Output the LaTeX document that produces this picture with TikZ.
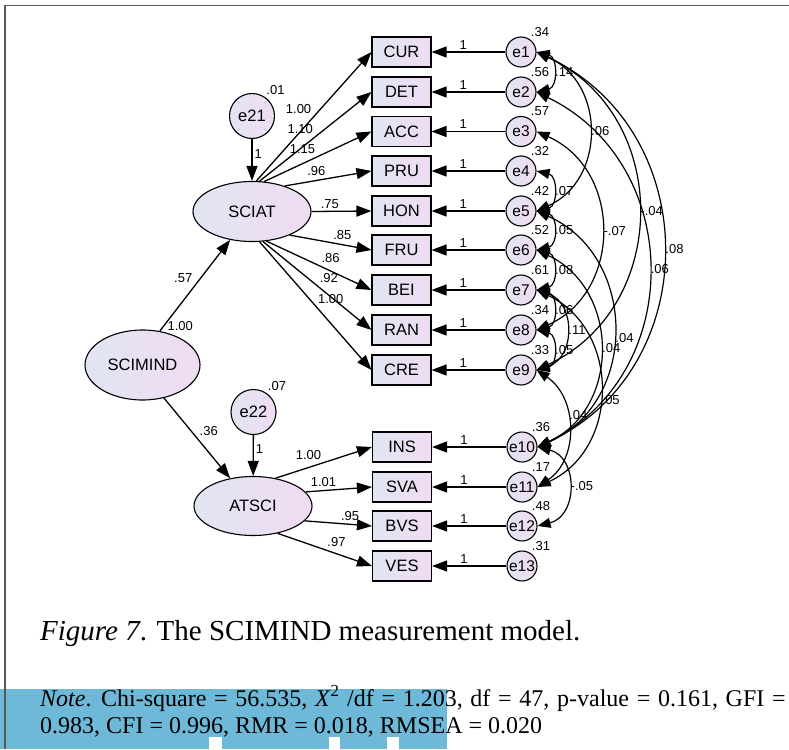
\documentclass[tikz,border=0pt]{standalone}
\usepackage{fontspec}
\setmainfont{Liberation Sans}
\newfontfamily\timesfont{Liberation Serif}
\usetikzlibrary{arrows.meta,shapes.geometric}
\definecolor{fillleft}{RGB}{225,229,242}
\definecolor{fillright}{RGB}{240,219,243}
\definecolor{bannerblue}{RGB}{110,184,216}
\definecolor{framecolor}{RGB}{90,90,90}

\begin{document}
\begin{tikzpicture}[x=1pt,y=1pt]
	\tikzstyle{latent} = [ellipse, draw, line width=1.1pt, left color=fillleft, right color=fillright, inner sep=0pt, label distance=2pt, font=\fontsize{16.5}{18}\selectfont]
	\tikzstyle{observed} = [rectangle, draw, line width=1.1pt, left color=fillleft, right color=fillright, minimum width=59pt, minimum height=30pt, inner sep=0pt, font=\fontsize{16.5}{18}\selectfont]
	\tikzstyle{errcirc} = [circle, draw, line width=1.1pt, left color=fillleft, right color=fillright, minimum size=30pt, inner sep=-3pt, label distance=3pt, font=\fontsize{15.5}{17}\selectfont]
	\tikzstyle{disturb} = [errcirc, minimum size=45pt, font=\fontsize{16.5}{18}\selectfont]
	\tikzstyle{estimate} = [font=\fontsize{13}{15}\selectfont, inner sep=2pt]
	\tikzstyle{regpath} = [-{Triangle[length=15pt,width=11pt]}, line width=1.3pt]
	\tikzstyle{covpath} = [{Triangle[length=13pt,width=10pt]}-{Triangle[length=13pt,width=10pt]}, line width=1.2pt]

	\useasboundingbox (0,0) rectangle (789,-749);
	\clip (0,0) rectangle (789,-749);

	% page frame and banner
	\fill[bannerblue] (0,-689) rectangle (447,-749);
	\fill[white] (209,-737) rectangle (222,-749);
	\fill[white] (329,-737) rectangle (340,-749);
	\fill[white] (387,-737) rectangle (399,-749);
	\draw[framecolor, line width=1.6pt] (789,-5.5) -- (4.8,-5.5) -- (4.8,-749);

	% latent variables
	\node[latent, minimum width=115pt, minimum height=70pt, label={[estimate]55:1.00}] (SCIMIND) at (142.5,-365) {SCIMIND};
	\node[latent, minimum width=118pt, minimum height=60pt] (SCIAT) at (252,-211.5) {SCIAT};
	\node[latent, minimum width=118pt, minimum height=59pt] (ATSCI) at (253,-506) {ATSCI};
	\node[disturb, label={[estimate]58:.01}] (e21) at (252,-116) {e21};
	\node[disturb, label={[estimate]58:.07}] (e22) at (253.5,-412) {e22};

	% indicators
	\node[observed] (CUR) at (401.5,-52) {CUR};
	\node[observed] (DET) at (401.5,-92) {DET};
	\node[observed] (ACC) at (401.5,-131.5) {ACC};
	\node[observed] (PRU) at (401.5,-171) {PRU};
	\node[observed] (HON) at (401.5,-211) {HON};
	\node[observed] (FRU) at (401.5,-250) {FRU};
	\node[observed] (BEI) at (401.5,-290) {BEI};
	\node[observed] (RAN) at (401.5,-330) {RAN};
	\node[observed] (CRE) at (401.5,-370) {CRE};
	\node[observed] (INS) at (402,-447) {INS};
	\node[observed] (SVA) at (402,-487) {SVA};
	\node[observed] (BVS) at (402,-526) {BVS};
	\node[observed] (VES) at (402,-566) {VES};

	% error terms
	\node[errcirc, label={[estimate]60:.34}] (e1) at (521,-52) {e1};
	\node[errcirc, label={[estimate]60:.56}] (e2) at (521,-92) {e2};
	\node[errcirc, label={[estimate]60:.57}] (e3) at (521,-131.5) {e3};
	\node[errcirc, label={[estimate]60:.32}] (e4) at (521,-171) {e4};
	\node[errcirc, label={[estimate]60:.42}] (e5) at (521,-211) {e5};
	\node[errcirc, label={[estimate]60:.52}] (e6) at (521,-250) {e6};
	\node[errcirc, label={[estimate]60:.61}] (e7) at (521,-290) {e7};
	\node[errcirc, label={[estimate]60:.34}] (e8) at (521,-330) {e8};
	\node[errcirc, label={[estimate]60:.33}] (e9) at (521,-370) {e9};
	\node[errcirc, label={[estimate]60:.36}] (e10) at (522,-447) {e10};
	\node[errcirc, label={[estimate]60:.17}] (e11) at (522,-487) {e11};
	\node[errcirc, label={[estimate]60:.48}] (e12) at (522,-526) {e12};
	\node[errcirc, label={[estimate]60:.31}] (e13) at (522,-566) {e13};

	% structural part
	\draw[regpath] (e21) -- (SCIAT) node[estimate, pos=0.35, right] {1};
	\draw[regpath] (e22) -- (ATSCI) node[estimate, pos=0.35, right] {1};
	\draw[regpath] (SCIMIND.63) -- (SCIAT) node[estimate, midway, above left] {.57};
	\draw[regpath] (SCIMIND.-57) -- (ATSCI) node[estimate, midway, above right] {.36};

	% loadings
	\draw[regpath] (SCIAT.82) -- (CUR.west) node[estimate, midway, above left] {1.00};
	\draw[regpath] (SCIAT.76) -- (DET.west) node[estimate, midway, above left] {1.10};
	\draw[regpath] (SCIAT.68) -- (ACC.west) node[estimate, midway, above left] {1.15};
	\draw[regpath] (SCIAT.38) -- (PRU.west) node[estimate, midway, above left] {.96};
	\draw[regpath] (SCIAT.east) -- (HON.west) node[estimate, midway, above left] {.75};
	\draw[regpath] (SCIAT.-32) -- (FRU.west) node[estimate, midway, above right] {.85};
	\draw[regpath] (SCIAT.-64) -- (BEI.west) node[estimate, midway, above right] {.86};
	\draw[regpath] (SCIAT.-70) -- (RAN.west) node[estimate, midway, above right] {.92};
	\draw[regpath] (SCIAT.-76) -- (CRE.west) node[estimate, midway, above right] {1.00};
	\draw[regpath] (ATSCI.51) -- (INS.west) node[estimate, midway, above left] {1.00};
	\draw[regpath] (ATSCI.15) -- (SVA.west) node[estimate, midway, above left] {1.01};
	\draw[regpath] (ATSCI.-16) -- (BVS.west) node[estimate, midway, above right] {.95};
	\draw[regpath] (ATSCI.-48) -- (VES.west) node[estimate, midway, above right] {.97};

	% residual paths
	\draw[regpath] (e1) -- (CUR) node[estimate, pos=0.57, above] {1};
	\draw[regpath] (e2) -- (DET) node[estimate, pos=0.57, above] {1};
	\draw[regpath] (e3) -- (ACC) node[estimate, pos=0.57, above] {1};
	\draw[regpath] (e4) -- (PRU) node[estimate, pos=0.57, above] {1};
	\draw[regpath] (e5) -- (HON) node[estimate, pos=0.57, above] {1};
	\draw[regpath] (e6) -- (FRU) node[estimate, pos=0.57, above] {1};
	\draw[regpath] (e7) -- (BEI) node[estimate, pos=0.57, above] {1};
	\draw[regpath] (e8) -- (RAN) node[estimate, pos=0.57, above] {1};
	\draw[regpath] (e9) -- (CRE) node[estimate, pos=0.57, above] {1};
	\draw[regpath] (e10) -- (INS) node[estimate, pos=0.57, above] {1};
	\draw[regpath] (e11) -- (SVA) node[estimate, pos=0.57, above] {1};
	\draw[regpath] (e12) -- (BVS) node[estimate, pos=0.57, above] {1};
	\draw[regpath] (e13) -- (VES) node[estimate, pos=0.57, above] {1};

	% correlated residuals
	\draw[covpath] (e1.east) to[out=-13,in=13,distance=22pt] node[estimate, midway, right] {.14} (e2.east);
	\draw[covpath] (e4.east) to[out=-13,in=13,distance=22pt] node[estimate, midway, right] {.07} (e5.east);
	\draw[covpath] (e5.east) to[out=-13,in=13,distance=22pt] node[estimate, midway, right] {.05} (e6.east);
	\draw[covpath] (e6.east) to[out=-13,in=13,distance=22pt] node[estimate, midway, right] {.08} (e7.east);
	\draw[covpath] (e7.east) to[out=-13,in=13,distance=22pt] node[estimate, midway, right] {.06} (e8.east);
	\draw[covpath] (e8.east) to[out=-13,in=13,distance=22pt] node[estimate, midway, right] {.05} (e9.east);
	\draw[covpath] (e7.east) to[out=-18,in=18,distance=41pt] node[estimate, midway, right] {.11} (e9.east);
	\draw[covpath] (e10.east) to[out=-14,in=14,distance=42pt] node[estimate, midway, right] {-.05} (e12.east);
	\draw[covpath] (e1.east) to[out=-24,in=24,distance=76pt] node[estimate, midway, right] {.06} (e5.east);
	\draw[covpath] (e1.east) to[out=-25,in=25,distance=149pt] node[estimate, midway, right] {-.04} (e9.east);
	\draw[covpath] (e1.east) to[out=-25,in=25,distance=185pt] node[estimate, midway, right] {.08} (e10.east);
	\draw[covpath] (e2.east) to[out=-26,in=26,distance=165pt] node[estimate, midway, right] {.06} (e10.east);
	\draw[covpath] (e3.east) to[out=-24,in=24,distance=94pt] node[estimate, midway, right] {-.07} (e8.east);
	\draw[covpath] (e5.east) to[out=-24,in=24,distance=111pt] node[estimate, pos=0.53, right] {.04} (e10.east);
	\draw[covpath] (e6.east) to[out=-25,in=25,distance=92pt] node[estimate, midway, right] {.04} (e10.east);
	\draw[covpath] (e7.east) to[out=-25,in=25,distance=92pt] node[estimate, pos=0.55, right] {.05} (e11.east);
	\draw[covpath] (e9.east) to[out=-34,in=34,distance=50pt] node[estimate, pos=0.4, right] {.04} (e11.east);

	% caption and note
	\node[anchor=base west, inner sep=0pt, font=\timesfont\fontsize{29}{32}\selectfont] (caption) at (40,-640) {\textit{Figure 7}. The SCIMIND measurement model.};
	\node[anchor=base west, inner sep=0pt, font=\timesfont\fontsize{24}{27}\selectfont] (noteone) at (40,-706) {\spaceskip=7.7pt\textit{Note}. Chi-square = 56.535, \textit{X}\textsuperscript{2} /df = 1.203, df = 47, p-value = 0.161, GFI =};
	\node[anchor=base west, inner sep=0pt, font=\timesfont\fontsize{24}{27}\selectfont] (notetwo) at (40,-733) {0.983, CFI = 0.996, RMR = 0.018, RMSEA = 0.020};
\end{tikzpicture}
\end{document}
